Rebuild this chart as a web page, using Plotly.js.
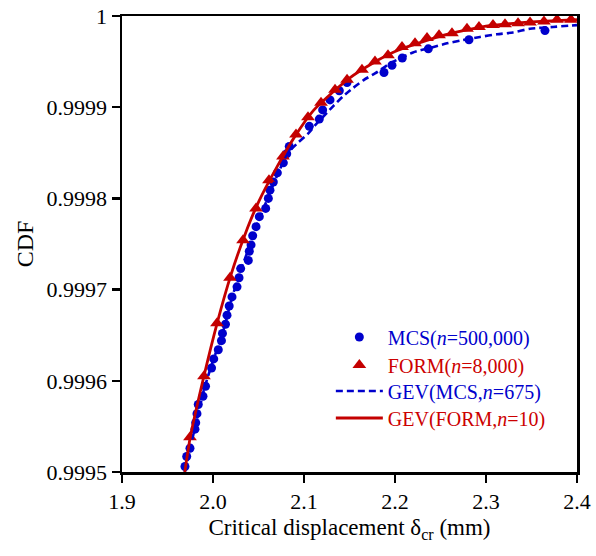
<!DOCTYPE html>
<html>
<head>
<meta charset="utf-8">
<script src="https://cdn.plot.ly/plotly-3.0.1.min.js"></script>
<style>body{margin:0;background:#fff}#chart{width:596px;height:556px}</style>
</head>
<body>
<div id="chart"></div>
<script>
// MCS (n=500,000) sample points
const mcsX = [1.9692,1.9711,1.9747,1.9802,1.9810,1.9824,1.9838,1.9890,1.9918,1.9984,2.0008,2.0058,2.0093,2.0104,2.0137,2.0154,2.0178,2.0209,2.0264,2.0286,2.0304,2.0388,2.0399,2.0418,2.0436,2.0473,2.0509,2.0579,2.0608,2.0626,2.0663,2.0707,2.0773,2.0810,2.0838,2.1058,2.1168,2.1205,2.1286,2.1388,2.1473,2.1879,2.1967,2.2080,2.2366,2.2813,2.3648];
const mcsY = [0.999506,0.999517,0.999526,0.999547,0.999554,0.999564,0.999574,0.999583,0.999594,0.999614,0.999624,0.999634,0.999644,0.999652,0.999662,0.999672,0.999682,0.999692,0.999703,0.999713,0.999723,0.999732,0.999742,0.999749,0.999759,0.999769,0.999780,0.999789,0.999800,0.999809,0.999818,0.999828,0.999839,0.999849,0.999857,0.999879,0.999887,0.999897,0.999908,0.999918,0.999927,0.999938,0.999946,0.999954,0.999964,0.999974,0.999984];

// FORM (n=8,000) points
const formX = [1.9747,1.9901,2.0044,2.0187,2.0330,2.0473,2.0615,2.0769,2.0912,2.1044,2.1187,2.1341,2.1473,2.1637,2.1780,2.1923,2.2077,2.2220,2.2352,2.2484,2.2626,2.2791,2.2923,2.3077,2.3209,2.3352,2.3484,2.3637,2.3780,2.3934];
const formY = [0.999538,0.999605,0.999663,0.999713,0.999754,0.999789,0.999820,0.999846,0.999870,0.999889,0.999905,0.999919,0.999930,0.999941,0.999950,0.999957,0.999966,0.999970,0.999976,0.999979,0.999981,0.999986,0.999988,0.999990,0.999991,0.999992,0.999993,0.999994,0.999996,0.999996];

// GEV(MCS, n=675) curve
const gevMcsX = [1.969,1.98,1.99,2.0,2.01,2.02,2.03,2.04,2.05,2.06,2.07,2.0824,2.0934,2.1044,2.1121,2.1319,2.1429,2.1538,2.1659,2.178,2.1945,2.2198,2.2385,2.2571,2.2714,2.2934,2.3121,2.3297,2.3484,2.3736,2.4];
const gevMcsY = [0.99950,0.999548,0.999590,0.999622,0.999650,0.999688,0.999720,0.999747,0.999775,0.999800,0.999824,0.999850,0.999861,0.999871,0.999880,0.999901,0.999912,0.999921,0.999930,0.999937,0.999948,0.999960,0.999965,0.999970,0.999973,0.999977,0.999980,0.999982,0.999986,0.999988,0.999990];

// GEV(FORM, n=10) curve
const gevFormX = [1.969,1.975,1.990,2.005,2.020,2.035,2.050,2.070,2.090,2.110,2.130,2.150,2.175,2.200,2.225,2.250,2.275,2.300,2.330,2.360,2.400];
const gevFormY = [0.99950,0.999538,0.999605,0.999665,0.999717,0.999760,0.999796,0.999834,0.999868,0.999896,0.999915,0.999932,0.999948,0.999961,0.999970,0.999978,0.999984,0.999989,0.999992,0.999994,0.999996];

const xTickVals = [1.9,2.0,2.1,2.2,2.3,2.4];
const xTickText = ['1.9','2.0','2.1','2.2','2.3','2.4'];
const yTickVals = [0.9995,0.9996,0.9997,0.9998,0.9999,1];
const yTickText = ['0.9995','0.9996','0.9997','0.9998','0.9999','1'];

const names = [
  '<span style="color:#0000cc">MCS(<i>n</i>=500,000)</span>',
  '<span style="color:#cc0000">FORM(<i>n</i>=8,000)</span>',
  '<span style="color:#0000cc">GEV(MCS,<i>n</i>=675)</span>',
  '<span style="color:#cc0000">GEV(FORM,<i>n</i>=10)</span>'
];

const blue = '#0000cc', red = '#c40000';
const SERIF = 'Liberation Serif';

const traces = [
  {x: mcsX, y: mcsY, name: names[0], mode: 'markers', type: 'scatter', legend: 'legend',
   marker: {color: blue, size: 9, symbol: 'circle'}},
  {x: formX, y: formY, name: names[1], mode: 'markers', type: 'scatter', legend: 'legend2',
   marker: {color: red, size: 12, symbol: 'triangle-up'}},
  {x: gevMcsX, y: gevMcsY, name: names[2], mode: 'lines', type: 'scatter', legend: 'legend3',
   line: {color: blue, width: 2.6, dash: '7px,4px', shape: 'spline', smoothing: 0.6}},
  {x: gevFormX, y: gevFormY, name: names[3], mode: 'lines', type: 'scatter', legend: 'legend4',
   line: {color: red, width: 2.8, shape: 'spline', smoothing: 0.6}}
];

function leg(yc) {
  return {x: 0.459, y: yc, xanchor: 'left', yanchor: 'middle',
    bgcolor: 'rgba(0,0,0,0)', borderwidth: 0, itemwidth: 47,
    font: {family: SERIF, size: 20}};
}

const layout = {
  width: 596, height: 556,
  margin: {l: 122, r: 19, t: 16, b: 84},
  paper_bgcolor: '#fff', plot_bgcolor: '#fff',
  font: {family: SERIF, size: 22, color: '#000'},
  showlegend: true,
  legend: leg(0.296),
  legend2: leg(0.2346),
  legend3: leg(0.1776),
  legend4: leg(0.1184),
  xaxis: {range: [1.9, 2.4], tickvals: xTickVals, ticktext: xTickText,
    ticks: 'outside', ticklen: 8, tickwidth: 2.5, tickcolor: '#000',
    showline: true, linewidth: 2.5, linecolor: '#000', mirror: true,
    showgrid: false, zeroline: false,
    tickfont: {family: SERIF, size: 22, color: '#000'},
    title: {text: 'Critical displacement δ<sub>cr</sub> (mm)', font: {family: SERIF, size: 23, color: '#000'}, standoff: 6}},
  yaxis: {range: [0.9995, 1], tickvals: yTickVals, ticktext: yTickText,
    ticks: 'outside', ticklen: 8, tickwidth: 2.5, tickcolor: '#000',
    showline: true, linewidth: 2.5, linecolor: '#000', mirror: true,
    showgrid: false, zeroline: false,
    tickfont: {family: SERIF, size: 22, color: '#000'},
    title: {text: 'CDF', font: {family: SERIF, size: 24, color: '#000'}, standoff: 6}}
};

Plotly.newPlot('chart', traces, layout, {displayModeBar: false, staticPlot: true});
</script>
</body>
</html>
